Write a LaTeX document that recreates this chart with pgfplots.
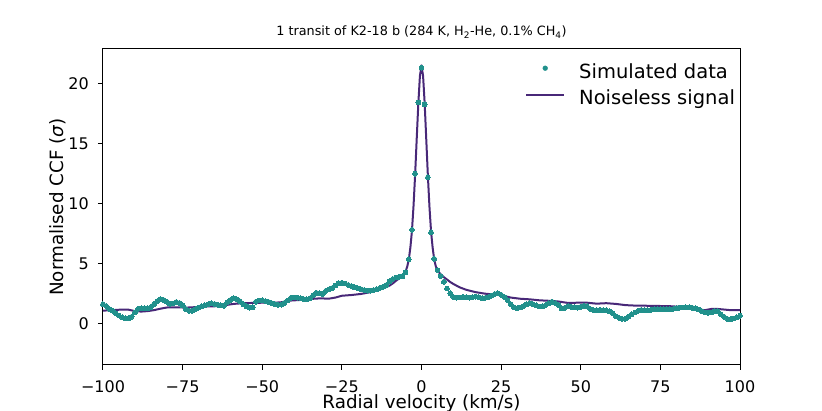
\documentclass[border=0pt]{standalone}
\usepackage{fontspec}
\setmainfont{DejaVu Sans}
\usepackage{pgfplots}
\pgfplotsset{compat=1.18}
\usepackage{pgfplotstable}
\definecolor{simc}{RGB}{33,145,140}
\definecolor{linec}{RGB}{72,40,120}

\pgfplotstableread{
x y
-100 1.60
-99 1.45
-98 1.20
-97 1.05
-96 0.85
-95 0.65
-94 0.50
-93 0.42
-92 0.42
-91 0.55
-90 0.90
-89 1.20
-88 1.25
-87 1.25
-86 1.25
-85 1.35
-84 1.60
-83 1.85
-82 2.02
-81 1.95
-80 1.80
-79 1.62
-78 1.65
-77 1.78
-76 1.70
-75 1.50
-74 1.20
-73 1.05
-72 1.05
-71 1.20
-70 1.30
-69 1.42
-68 1.50
-67 1.58
-66 1.67
-65 1.62
-64 1.55
-63 1.50
-62 1.45
-61 1.75
-60 1.95
-59 2.08
-58 2.00
-57 1.85
-56 1.60
-55 1.42
-54 1.30
-53 1.35
-52 1.80
-51 1.90
-50 1.92
-49 1.85
-48 1.78
-47 1.68
-46 1.60
-45 1.55
-44 1.55
-43 1.70
-42 1.90
-41 2.12
-40 2.15
-39 2.14
-38 2.10
-37 2.02
-36 2.00
-35 2.10
-34 2.35
-33 2.55
-32 2.50
-31 2.45
-30 2.72
-29 2.85
-28 2.95
-27 3.15
-26 3.33
-25 3.38
-24 3.32
-23 3.20
-22 3.10
-21 3.00
-20 2.92
-19 2.85
-18 2.78
-17 2.72
-16 2.72
-15 2.78
-14 2.85
-13 2.95
-12 3.05
-11 3.20
-10 3.50
-9 3.70
-8 3.82
-7 3.88
-6 3.92
-5 4.25
-4 5.33
-3 7.80
-2 12.47
-1 18.40
0 21.30
1 18.25
2 12.17
3 7.58
4 5.38
5 4.44
6 3.94
7 3.47
8 2.90
9 2.50
10 2.20
11 2.14
12 2.16
13 2.20
14 2.18
15 2.14
16 2.18
17 2.22
18 2.18
19 2.10
20 2.12
21 2.20
22 2.30
23 2.45
24 2.50
25 2.38
26 2.20
27 1.95
28 1.60
29 1.35
30 1.25
31 1.32
32 1.44
33 1.58
34 1.67
35 1.60
36 1.50
37 1.40
38 1.42
39 1.52
40 1.68
41 1.80
42 1.70
43 1.52
44 1.25
45 1.30
46 1.44
47 1.38
48 1.33
49 1.31
50 1.38
51 1.45
52 1.42
53 1.20
54 1.10
55 1.10
56 1.12
57 1.10
58 1.08
59 1.00
60 0.85
61 0.60
62 0.45
63 0.37
64 0.38
65 0.55
66 0.75
67 0.90
68 1.05
69 1.12
70 1.10
71 1.08
72 1.12
73 1.17
74 1.18
75 1.19
76 1.19
77 1.20
78 1.19
79 1.20
80 1.25
81 1.30
82 1.32
83 1.33
84 1.33
85 1.30
86 1.25
87 1.15
88 1.00
89 0.90
90 0.88
91 0.90
92 1.02
93 1.00
94 0.75
95 0.55
96 0.38
97 0.33
98 0.40
99 0.50
100 0.64
}\simdata

\pgfplotstableread{
x y
-100 1.06
-97 1.10
-94 1.15
-92 1.14
-90 1.02
-88 0.98
-86 1.02
-84 1.10
-82 1.22
-80 1.32
-77 1.34
-74 1.31
-71 1.35
-68 1.40
-65 1.42
-62 1.50
-59 1.62
-56 1.68
-53 1.70
-50 1.72
-47 1.70
-44 1.76
-41 1.90
-38 1.95
-35 2.03
-32 2.08
-29 2.06
-27 2.15
-25 2.30
-22 2.36
-19 2.45
-16 2.60
-14 2.75
-12 2.92
-10 3.15
-9 3.33
-8 3.55
-7 3.75
-6 4.02
-5 4.35
-4.5 4.70
-4 5.30
-3.5 6.30
-3 7.70
-2.5 9.80
-2 12.40
-1.5 15.40
-1 18.30
-0.5 20.60
0 21.50
0.5 20.60
1 18.30
1.5 15.30
2 12.30
2.5 9.70
3 7.65
3.5 6.30
4 5.30
4.5 4.75
5 4.40
6 4.10
7 3.85
8 3.65
9 3.45
10 3.28
12 3.00
14 2.80
17 2.60
20 2.47
23 2.40
25 2.34
28 2.15
31 2.05
34 2.00
37 1.92
40 1.88
43 1.82
46 1.70
49 1.72
52 1.72
55 1.64
58 1.68
61 1.62
64 1.52
67 1.48
70 1.47
74 1.45
78 1.43
81 1.38
84 1.25
87 1.15
89 1.10
91 1.20
93 1.20
95 1.15
97 1.10
100 1.10
}\linedata

\begin{document}
\begin{tikzpicture}
\path[use as bounding box] (-103pt,-46pt) rectangle (719pt,365pt);
\begin{axis}[
  at={(0pt,0pt)}, anchor=south west,
  scale only axis, width=637pt, height=316pt,
  xmin=-100, xmax=100, ymin=-3.47, ymax=22.86,
  xtick={-100,-75,-50,-25,0,25,50,75,100},
  xticklabels={−100,−75,−50,−25,0,25,50,75,100},
  ytick={0,5,10,15,20},
  yticklabels={0,5,10,15,20},
  xtick pos=left, ytick pos=left,
  tick align=outside, major tick length=5pt,
  every tick/.style={black, line width=1pt},
  axis line style={line width=1pt},
  ticklabel style={font=\fontsize{16}{19}\selectfont},
  xticklabel style={anchor=north, inner sep=0pt, yshift=-10.7pt},
  yticklabel style={anchor=east, inner sep=0pt, xshift=-9pt},
  title={1 transit of K2-18 b (284 K, H\textsubscript{2}-He, 0.1\% CH\textsubscript{4})},
  title style={font=\fontsize{12.8}{15}\selectfont, at={(axis description cs:0.5,1.0222)}, anchor=base, inner sep=0pt},
  xlabel={Radial velocity (km/s)},
  xlabel style={font=\fontsize{18.3}{22}\selectfont, at={(axis description cs:0.5,-0.1392)}, anchor=base, inner sep=0pt},
  ylabel={Normalised CCF (\textit{σ})},
  ylabel style={font=\fontsize{18.3}{22}\selectfont, at={(axis description cs:-0.0623,0.5)}, anchor=base, inner sep=0pt, rotate=0},
  legend style={at={(axis description cs:0.6625,0.9525)}, anchor=north west, draw=none, fill=none, inner sep=0pt, row sep=8.5pt,
    font=\fontsize{19.5}{23}\selectfont, nodes={inner sep=0pt, text height=14pt, text depth=4pt},
    /tikz/every odd column/.append style={column sep=14pt}},
  legend cell align=left,
]
\addplot[only marks, color=simc, mark=*, mark size=2.4pt, mark options={solid, draw=simc, fill=simc, line width=0pt},
  legend image code/.code={\fill[simc] (19pt,5pt) circle (2.4pt);}] table[x=x,y=y] {\simdata};
\addlegendentry{Simulated data}
\addplot[no marks, color=linec, line width=2pt, line join=round,
  legend image code/.code={\draw[linec, line width=2pt] (0pt,5pt) -- (38pt,5pt);}] table[x=x,y=y] {\linedata};
\addlegendentry{Noiseless signal}
\end{axis}
\end{tikzpicture}
\end{document}
